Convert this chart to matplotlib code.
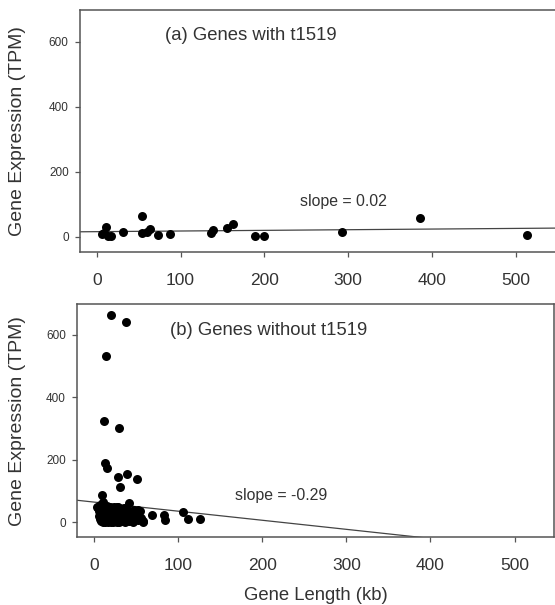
"""Gene expression vs gene length, genes with and without t1519."""

import matplotlib
matplotlib.use('Agg')
import matplotlib.pyplot as plt

plt.rcParams['font.family'] = ['Liberation Sans', 'DejaVu Sans']

# (a) genes with t1519: length (kb), expression (TPM)
WITH_LEN = [6, 9, 11, 14, 17, 31, 54, 54, 60, 63, 73, 88,
            136, 139, 155, 162, 189, 200, 293, 386, 513]
WITH_TPM = [8, 10, 31, 3, 3, 14, 65, 10, 13, 24, 5, 8,
            12, 22, 28, 39, 2, 2, 14, 57, 5]
WITH_FIT = (15.5, 0.02)  # intercept, slope

# (b) genes without t1519
WITHOUT_LEN = [
    20, 38, 14, 12, 29, 13, 15, 28, 39, 31, 51, 9, 42, 69, 83, 84, 106,
    112, 126, 58, 52, 3, 11, 27,
    5, 6, 6, 7, 7, 8, 8, 9, 9, 10, 10, 11, 11, 12, 12, 13, 13, 14, 14,
    15, 15, 16, 16, 17, 17, 18, 18, 19, 19, 20, 20, 21, 21, 22, 22, 23,
    23, 24, 24, 25, 25, 26, 26, 27, 27, 28, 28, 29, 29, 30, 30, 31, 32,
    32, 33, 34, 34, 35, 36, 36, 37, 38, 38, 39, 40, 41, 42, 42, 43, 44,
    45, 46, 47, 48, 49, 50, 52, 54, 56, 58,
]
WITHOUT_TPM = [
    664, 640, 531, 324, 302, 191, 175, 144, 156, 114, 138, 87, 61, 25,
    23, 7, 34, 10, 10, 5, 39, 50, 66, 50,
    45, 20, 35, 10, 55, 5, 28, 15, 40, 2, 60, 22, 8, 48, 30, 3, 15, 38,
    25, 5, 52, 12, 30, 42, 2, 20, 8, 35, 50, 15, 3, 28, 45, 10, 38, 20,
    2, 48, 30, 6, 18, 40, 12, 25, 3, 35, 50, 15, 8, 28, 2, 42, 18, 10,
    33, 5, 22, 45, 12, 30, 2, 20, 38, 8, 28, 15, 5, 35, 22, 10, 30, 3,
    18, 40, 12, 25, 8, 35, 15, 3,
]
WITHOUT_FIT = (65.0, -0.29)

X_LIM = (-20, 547)
Y_LIM = (-48, 698)
X_TICKS = [0, 100, 200, 300, 400, 500]
Y_TICKS = [0, 200, 400, 600]

SPINE_COLOR = '#555555'
TEXT_COLOR = '#333333'


def style_panel(ax, title, title_xy, slope_text, slope_xy):
    ax.set_xlim(*X_LIM)
    ax.set_ylim(*Y_LIM)
    ax.set_xticks(X_TICKS)
    ax.set_yticks(Y_TICKS)
    for side in ax.spines.values():
        side.set_color(SPINE_COLOR)
        side.set_linewidth(1.1)
    ax.tick_params(axis='x', direction='out', length=3.6, width=0.9,
                   color=SPINE_COLOR, labelsize=12.5, pad=11,
                   labelcolor=TEXT_COLOR)
    ax.tick_params(axis='y', direction='out', length=3.6, width=0.9,
                   color=SPINE_COLOR, labelsize=8.5, pad=4.5,
                   labelcolor=TEXT_COLOR)
    ax.set_ylabel('Gene Expression (TPM)', fontsize=14, color=TEXT_COLOR)
    ax.text(*title_xy, title, fontsize=13.3, color=TEXT_COLOR,
            ha='left', va='center')
    ax.text(*slope_xy, slope_text, fontsize=11.4, color=TEXT_COLOR,
            ha='left', va='center')


def draw_fit(ax, fit):
    a, b = fit
    xs = [X_LIM[0], X_LIM[1]]
    ax.plot(xs, [a + b * x for x in xs], color='#444444', linewidth=0.9,
            zorder=1)


def main():
    fig = plt.figure(figsize=(5.55, 6.05), dpi=100)

    # right edge of panel (a) runs just past the figure edge, as in the source
    ax_a = fig.add_axes([0.1441, 0.583, 0.8585, 0.4005])
    draw_fit(ax_a, WITH_FIT)
    ax_a.scatter(WITH_LEN, WITH_TPM, s=42, color='black', zorder=2,
                 linewidths=0)
    style_panel(ax_a, '(a) Genes with t1519', (81, 620),
                'slope = 0.02', (243, 107))
    ax_a.set_xlim(X_LIM[0], X_LIM[0] + (X_LIM[1] - X_LIM[0]) * 0.8585 / 0.8563)
    ax_a.yaxis.set_label_coords(-0.1126, 0.5)

    ax_b = fig.add_axes([0.1393, 0.1116, 0.859, 0.386])
    draw_fit(ax_b, WITHOUT_FIT)
    ax_b.scatter(WITHOUT_LEN, WITHOUT_TPM, s=42, color='black', zorder=2,
                 linewidths=0)
    style_panel(ax_b, '(b) Genes without t1519', (90, 614),
                'slope = -0.29', (167, 87))
    ax_b.yaxis.set_label_coords(-0.1066, 0.5)
    ax_b.set_xlabel('Gene Length (kb)', fontsize=13.3, color=TEXT_COLOR)
    ax_b.xaxis.set_label_coords(0.5, -0.21)

    fig.savefig('out.png', dpi=100)


if __name__ == '__main__':
    main()
